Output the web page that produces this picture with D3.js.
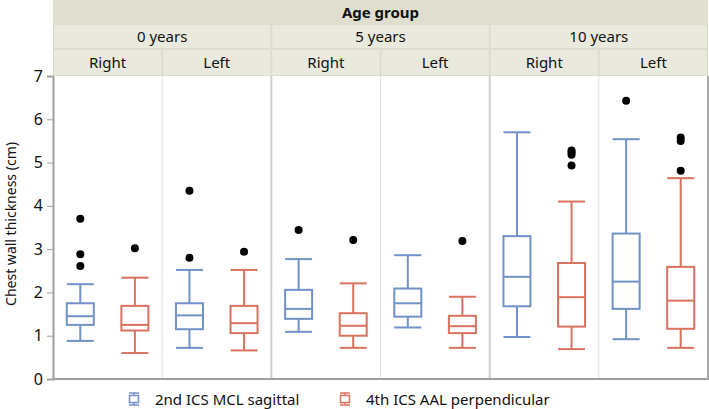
<!DOCTYPE html>
<html lang="en">
<head>
  <meta charset="UTF-8" />
  <script src="https://d3js.org/d3.v7.min.js"></script>
  <title>Chest wall thickness</title>
  <style>
    body { margin: 0; background: #fff; }
    text { font-family: "Noto Sans", "Open Sans", sans-serif; fill: #111; }
  </style>
</head>
<body>
<script type="text/javascript">
// facets: age group x side
var ageGroups = ["0 years", "5 years", "10 years"];
var sides = ["Right", "Left"];
var series = ["2nd ICS MCL sagittal", "4th ICS AAL perpendicular"];
var yTicks = [0, 1, 2, 3, 4, 5, 6, 7];

// 2nd ICS MCL sagittal, one value per panel (0y R, 0y L, 5y R, 5y L, 10y R, 10y L)
var mclLow  = [0.88, 0.72, 1.09, 1.19, 0.97, 0.92];
var mclQ1   = [1.25, 1.15, 1.39, 1.44, 1.68, 1.62];
var mclMed  = [1.45, 1.47, 1.62, 1.75, 2.36, 2.25];
var mclQ3   = [1.75, 1.75, 2.06, 2.09, 3.30, 3.36];
var mclHigh = [2.19, 2.52, 2.77, 2.86, 5.70, 5.54];
var mclOut  = [[3.70, 2.88, 2.61], [4.35, 2.80], [3.44], [], [], [6.43]];

// 4th ICS AAL perpendicular
var aalLow  = [0.60, 0.66, 0.72, 0.72, 0.69, 0.72];
var aalQ1   = [1.12, 1.06, 1.00, 1.06, 1.21, 1.16];
var aalMed  = [1.25, 1.29, 1.23, 1.22, 1.89, 1.81];
var aalQ3   = [1.69, 1.69, 1.52, 1.46, 2.68, 2.59];
var aalHigh = [2.34, 2.52, 2.21, 1.90, 4.10, 4.64];
var aalOut  = [[3.02], [2.94], [3.21], [3.19], [5.18, 5.24, 5.28, 4.93], [5.50, 5.58, 4.81]];

var colors = ["#7291c9", "#d9725f"];

var W = 709, H = 409;
var mLeft = 53, mRight = 708, mTop = 76, mBottom = 379;

var svg = d3.select("body").append("svg").attr("width", W).attr("height", H);

var panels = [];
ageGroups.forEach(function(a) { sides.forEach(function(s) { panels.push(a + "|" + s); }); });

var x0 = d3.scaleBand().domain(panels).range([mLeft, mRight]);
var xa = d3.scaleBand().domain(ageGroups).range([mLeft, mRight]);
var x1 = d3.scalePoint().domain(series).range([0, x0.bandwidth()]).padding(0.5);
var y = d3.scaleLinear().domain([0, 7]).range([mBottom, mTop]);
var boxW = 27;

// header strips
var hdr = svg.append("g");
hdr.append("rect").attr("x", mLeft).attr("y", 0).attr("width", mRight - mLeft).attr("height", 76).attr("fill", "#dcdccf");
hdr.append("rect").attr("x", mLeft).attr("y", 0).attr("width", mRight - mLeft).attr("height", 24).attr("fill", "#e0dfcf");
hdr.append("text").attr("x", (mLeft + mRight) / 2).attr("y", 18).attr("text-anchor", "middle")
  .style("font-size", "15px").style("font-weight", "bold").text("Age group");

ageGroups.forEach(function(a) {
  hdr.append("rect").attr("x", xa(a) + 1).attr("y", 25).attr("width", xa.bandwidth() - 2).attr("height", 23).attr("fill", "#e9e9de");
  hdr.append("text").attr("x", xa(a) + xa.bandwidth() / 2).attr("y", 42).attr("text-anchor", "middle")
    .style("font-size", "15px").text(a);
});
panels.forEach(function(p) {
  hdr.append("rect").attr("x", x0(p) + 1).attr("y", 50).attr("width", x0.bandwidth() - 2).attr("height", 25).attr("fill", "#e9e9de");
  hdr.append("text").attr("x", x0(p) + x0.bandwidth() / 2).attr("y", 68).attr("text-anchor", "middle")
    .style("font-size", "15px").text(p.split("|")[1]);
});

// panel separators
panels.forEach(function(p, i) {
  if (i === 0) return;
  svg.append("line").attr("x1", x0(p)).attr("x2", x0(p)).attr("y1", mTop).attr("y2", mBottom)
    .attr("stroke", i % 2 === 0 ? "#cfcfcf" : "#dedede").attr("stroke-width", i % 2 === 0 ? 2 : 1);
});
svg.append("line").attr("x1", mRight).attr("x2", mRight).attr("y1", mTop).attr("y2", mBottom)
  .attr("stroke", "#a8a8a8").attr("stroke-width", 2);

// y axis
var yAxis = svg.append("g").attr("transform", "translate(" + mLeft + ",0)")
  .call(d3.axisLeft(y).tickValues(yTicks).tickSize(6).tickPadding(4).tickFormat(d3.format("d")));
yAxis.select(".domain").attr("stroke", "#a0a0a0").attr("stroke-width", 2);
yAxis.selectAll(".tick line").attr("stroke", "#a0a0a0");
yAxis.selectAll(".tick text").style("font-size", "16px").style("font-family", "'Noto Sans', sans-serif").attr("fill", "#111");

svg.append("line").attr("x1", mLeft - 1).attr("x2", mRight + 1).attr("y1", mBottom).attr("y2", mBottom)
  .attr("stroke", "#a0a0a0").attr("stroke-width", 2);

svg.append("text").attr("transform", "translate(16,224) rotate(-90)")
  .attr("text-anchor", "middle").style("font-size", "14px").text("Chest wall thickness (cm)");

// boxes
var stats = [
  { low: mclLow, q1: mclQ1, med: mclMed, q3: mclQ3, high: mclHigh, out: mclOut },
  { low: aalLow, q1: aalQ1, med: aalMed, q3: aalQ3, high: aalHigh, out: aalOut }
];

var marks = svg.append("g");
panels.forEach(function(p, i) {
  series.forEach(function(s, k) {
    var st = stats[k], c = colors[k];
    var cx = x0(p) + x1(s);
    var g = marks.append("g").attr("stroke", c).attr("stroke-width", 2).attr("fill", "none");
    g.append("line").attr("x1", cx).attr("x2", cx).attr("y1", y(st.high[i])).attr("y2", y(st.q3[i]));
    g.append("line").attr("x1", cx).attr("x2", cx).attr("y1", y(st.q1[i])).attr("y2", y(st.low[i]));
    g.append("line").attr("x1", cx - boxW / 2).attr("x2", cx + boxW / 2).attr("y1", y(st.high[i])).attr("y2", y(st.high[i]));
    g.append("line").attr("x1", cx - boxW / 2).attr("x2", cx + boxW / 2).attr("y1", y(st.low[i])).attr("y2", y(st.low[i]));
    g.append("rect").attr("x", cx - boxW / 2).attr("y", y(st.q3[i])).attr("width", boxW)
      .attr("height", y(st.q1[i]) - y(st.q3[i]));
    g.append("line").attr("x1", cx - boxW / 2).attr("x2", cx + boxW / 2).attr("y1", y(st.med[i])).attr("y2", y(st.med[i]));
    st.out[i].forEach(function(v) {
      marks.append("circle").attr("cx", cx).attr("cy", y(v)).attr("r", 4).attr("fill", "#000");
    });
  });
});

// legend
var legX = [129, 340];
series.forEach(function(s, k) {
  var lg = svg.append("g").attr("transform", "translate(" + legX[k] + ",392)");
  var ic = lg.append("g").attr("stroke", colors[k]).attr("stroke-width", 1.5).attr("fill", "none");
  ic.append("line").attr("x1", 0).attr("x2", 10).attr("y1", 1).attr("y2", 1);
  ic.append("line").attr("x1", 5).attr("x2", 5).attr("y1", 1).attr("y2", 13);
  ic.append("rect").attr("x", 0.5).attr("y", 3.5).attr("width", 9).attr("height", 7).attr("fill", "#fff");
  ic.append("line").attr("x1", 0).attr("x2", 10).attr("y1", 13).attr("y2", 13);
  lg.append("text").attr("x", 26).attr("y", 12.5).style("font-size", "15px").text(s);
});
</script>
</body>
</html>
